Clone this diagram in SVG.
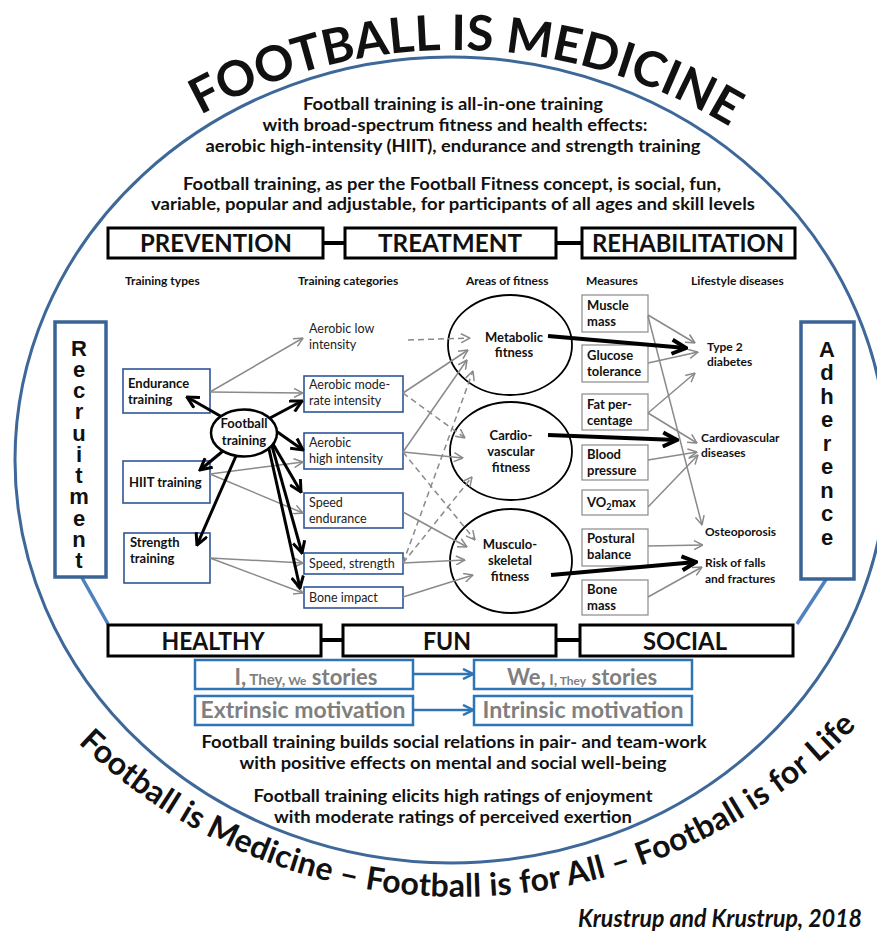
<svg xmlns="http://www.w3.org/2000/svg" width="877" height="934" viewBox="0 0 877 934">
<style>
text{font-family:Lato,"Noto Sans",sans-serif;fill:#111}
.b{font-weight:bold}
.top{font-weight:bold;font-size:16.5px;text-anchor:middle}
.hd{font-weight:bold;font-size:12px}
.big{font-weight:bold;font-size:25px;text-anchor:middle}
.bx{fill:#fff;stroke:#000;stroke-width:3}
.tb{fill:#fff;stroke:#2f5597;stroke-width:1.6}
.mb{fill:#fff;stroke:#8a8a8a;stroke-width:1.2}
.sb{fill:#fff;stroke:#2e75b6;stroke-width:2.5}
.rb{fill:#fff;stroke:#3b6496;stroke-width:3.5}
.el{fill:#fff;stroke:#000;stroke-width:1.8}
.t13{font-weight:bold;font-size:13px}
.t12{font-weight:bold;font-size:12px}
.cat{font-size:12.5px;fill:#222}
.mid{text-anchor:middle}
.vl{font-family:"Liberation Sans",Arial,sans-serif;font-weight:bold;font-size:22px;text-anchor:middle}
.st{font-weight:bold;fill:#7f7f7f;text-anchor:middle}
.ga{stroke:#8a8a8a;stroke-width:1.5;fill:none;marker-end:url(#ag)}
.gd{stroke:#8a8a8a;stroke-width:1.5;fill:none;stroke-dasharray:6 4;marker-end:url(#ag)}
.ba{stroke:#000;stroke-width:3;fill:none;marker-end:url(#ab)}
.bb{stroke:#000;stroke-width:4;fill:none;marker-end:url(#abb)}
.bl{stroke:#2e75b6;stroke-width:2.5;fill:none;marker-end:url(#abl)}
.lk{stroke:#000;stroke-width:4}
.rl{stroke:#4f81bd;stroke-width:3.5}
</style>
<defs>
<marker id="ag" viewBox="0 0 10 10" refX="9.5" refY="5" markerWidth="10" markerHeight="10" markerUnits="userSpaceOnUse" orient="auto"><path d="M0.5,0.5 L9.5,5 L0.5,9.5" fill="none" stroke="#8a8a8a" stroke-width="1.5"/></marker>
<marker id="ab" viewBox="0 0 14 14" refX="12.5" refY="7" markerWidth="14" markerHeight="14" markerUnits="userSpaceOnUse" orient="auto"><path d="M1,1 L12.5,7 L1,13" fill="none" stroke="#000" stroke-width="3"/></marker>
<marker id="abb" viewBox="0 0 18 18" refX="16" refY="9" markerWidth="18" markerHeight="18" markerUnits="userSpaceOnUse" orient="auto"><path d="M2,2 L16,9 L2,16" fill="none" stroke="#000" stroke-width="4"/></marker>
<marker id="abl" viewBox="0 0 12 12" refX="11" refY="6" markerWidth="12" markerHeight="12" markerUnits="userSpaceOnUse" orient="auto"><path d="M1,1 L11,6 L1,11" fill="none" stroke="#2e75b6" stroke-width="2.5"/></marker>
<path id="arcTop" d="M-75,580 A530,530 0 0 1 985,580"/>
<path id="arcBot" d="M-89,349 A548,548 0 0 0 1007,349"/>
</defs>
<rect width="877" height="934" fill="#fff"/>
<ellipse id="frame" cx="451" cy="460" rx="436" ry="403" fill="none" stroke="#3d6899" stroke-width="3"/>

<g id="title">
<text font-weight="bold" font-size="49"><textPath href="#arcTop" startOffset="50.7%" text-anchor="middle">FOOTBALL IS MEDICINE</textPath></text>
</g>
<g id="intro">
<text class="top" x="453" y="110" textLength="300" lengthAdjust="spacingAndGlyphs">Football training is all-in-one training</text>
<text class="top" x="455" y="131" textLength="385" lengthAdjust="spacingAndGlyphs">with broad-spectrum fitness and health effects:</text>
<text class="top" x="453" y="152" textLength="495" lengthAdjust="spacingAndGlyphs">aerobic high-intensity (HIIT), endurance and strength training</text>
<text class="top" x="452" y="190" textLength="538" lengthAdjust="spacingAndGlyphs">Football training, as per the Football Fitness concept, is social, fun,</text>
<text class="top" x="453" y="210" textLength="604" lengthAdjust="spacingAndGlyphs">variable, popular and adjustable, for participants of all ages and skill levels</text>
</g>

<g id="toprow">
<line class="lk" x1="322" y1="243" x2="345" y2="243"/>
<line class="lk" x1="556" y1="243" x2="582" y2="243"/>
<g id="prevention"><rect class="bx" x="108" y="228" width="215" height="30"/><text class="big" x="216" y="252" textLength="152" lengthAdjust="spacingAndGlyphs">PREVENTION</text></g>
<g id="treatment"><rect class="bx" x="345" y="228" width="211" height="30"/><text class="big" x="450" y="252" textLength="144" lengthAdjust="spacingAndGlyphs">TREATMENT</text></g>
<g id="rehabilitation"><rect class="bx" x="582" y="228" width="213" height="30"/><text class="big" x="688" y="252" textLength="192" lengthAdjust="spacingAndGlyphs">REHABILITATION</text></g>
</g>

<g id="headers">
<text class="hd" x="125" y="285">Training types</text>
<text class="hd" x="298" y="285">Training categories</text>
<text class="hd" x="466" y="285">Areas of fitness</text>
<text class="hd" x="586" y="285">Measures</text>
<text class="hd" x="691" y="285">Lifestyle diseases</text>
</g>

<g id="sideLinks">
<line class="rl" x1="81" y1="576" x2="108" y2="624"/>
<line class="rl" x1="827" y1="578" x2="797" y2="624"/>
</g>
<g id="recruitment">
<rect class="rb" x="55" y="322" width="51" height="255"/>
<text class="vl" x="79" y="356">R</text><text class="vl" x="79" y="377">e</text><text class="vl" x="79" y="398">c</text><text class="vl" x="79" y="419">r</text><text class="vl" x="79" y="441">u</text><text class="vl" x="79" y="462">i</text><text class="vl" x="79" y="483">t</text><text class="vl" x="79" y="504">m</text><text class="vl" x="79" y="526">e</text><text class="vl" x="79" y="547">n</text><text class="vl" x="79" y="568">t</text>
</g>
<g id="adherence">
<rect class="rb" x="801" y="322" width="53" height="257"/>
<text class="vl" x="827" y="357">A</text><text class="vl" x="827" y="380">d</text><text class="vl" x="827" y="404">h</text><text class="vl" x="827" y="427">e</text><text class="vl" x="827" y="451">r</text><text class="vl" x="827" y="474">e</text><text class="vl" x="827" y="498">n</text><text class="vl" x="827" y="521">c</text><text class="vl" x="827" y="545">e</text>
</g>

<g id="endurance"><rect class="tb" x="123" y="369" width="87" height="44"/><text class="t13" x="128" y="388">Endurance</text><text class="t13" x="128" y="404">training</text></g>
<g id="hiit"><rect class="tb" x="123" y="461" width="87" height="42"/><text class="t13" x="129" y="487">HIIT training</text></g>
<g id="strength"><rect class="tb" x="124" y="533" width="86" height="50"/><text class="t13" x="130" y="547">Strength</text><text class="t13" x="130" y="563">training</text></g>

<g id="aerobicLow"><text class="cat" x="309" y="333">Aerobic low</text><text class="cat" x="309" y="349">intensity</text></g>
<g id="aerobicMod"><rect class="tb" x="304" y="376" width="99" height="36"/><text class="cat" x="309" y="389">Aerobic mode-</text><text class="cat" x="309" y="405">rate intensity</text></g>
<g id="aerobicHigh"><rect class="tb" x="304" y="433" width="99" height="36"/><text class="cat" x="309" y="447">Aerobic</text><text class="cat" x="309" y="463">high intensity</text></g>
<g id="speedEnd"><rect class="tb" x="304" y="493" width="99" height="35"/><text class="cat" x="309" y="507">Speed</text><text class="cat" x="309" y="523">endurance</text></g>
<g id="speedStr"><rect class="tb" x="304" y="553" width="99" height="21"/><text class="cat" x="309" y="568">Speed, strength</text></g>
<g id="boneImpact"><rect class="tb" x="304" y="587" width="99" height="21"/><text class="cat" x="309" y="602">Bone impact</text></g>

<g id="metabolic"><ellipse class="el" cx="510" cy="345" rx="62" ry="50"/><text class="t13 mid" x="514" y="342">Metabolic</text><text class="t13 mid" x="514" y="357">fitness</text></g>
<g id="cardio"><ellipse class="el" cx="511" cy="451" rx="61" ry="49"/><text class="t13 mid" x="511" y="440">Cardio-</text><text class="t13 mid" x="511" y="456">vascular</text><text class="t13 mid" x="511" y="472">fitness</text></g>
<g id="musculo"><ellipse class="el" cx="511" cy="561" rx="61" ry="52"/><text class="t13 mid" x="510" y="549">Musculo-</text><text class="t13 mid" x="510" y="565">skeletal</text><text class="t13 mid" x="510" y="581">fitness</text></g>

<g id="muscleMass"><rect class="mb" x="582" y="295" width="66" height="37"/><text class="t13" x="587" y="310">Muscle</text><text class="t13" x="587" y="326">mass</text></g>
<g id="glucose"><rect class="mb" x="582" y="345" width="66" height="37"/><text class="t13" x="587" y="360">Glucose</text><text class="t13" x="587" y="376">tolerance</text></g>
<g id="fat"><rect class="mb" x="582" y="394" width="66" height="36"/><text class="t13" x="587" y="409">Fat per-</text><text class="t13" x="587" y="425">centage</text></g>
<g id="blood"><rect class="mb" x="582" y="445" width="66" height="35"/><text class="t13" x="587" y="459">Blood</text><text class="t13" x="587" y="475">pressure</text></g>
<g id="vo2"><rect class="mb" x="582" y="490" width="66" height="25"/><text class="t13" x="587" y="507">VO<tspan font-size="9" dy="3">2</tspan><tspan dy="-3">max</tspan></text></g>
<g id="postural"><rect class="mb" x="582" y="529" width="66" height="37"/><text class="t13" x="587" y="543">Postural</text><text class="t13" x="587" y="559">balance</text></g>
<g id="boneMass"><rect class="mb" x="582" y="580" width="66" height="35"/><text class="t13" x="587" y="594">Bone</text><text class="t13" x="587" y="610">mass</text></g>

<g id="type2"><text class="t12" x="707" y="351">Type 2</text><text class="t12" x="707" y="366">diabetes</text></g>
<g id="cvd"><text class="t12" x="701" y="442">Cardiovascular</text><text class="t12" x="701" y="457">diseases</text></g>
<g id="osteo"><text class="t12" x="705" y="536">Osteoporosis</text></g>
<g id="falls"><text class="t12" x="705" y="567">Risk of falls</text><text class="t12" x="705" y="583">and fractures</text></g>

<g id="connectors">
<line class="ga" x1="210" y1="392" x2="303" y2="338"/>
<line class="ga" x1="210" y1="392" x2="303" y2="393"/>
<line class="ga" x1="210" y1="474" x2="303" y2="462"/>
<line class="ga" x1="210" y1="474" x2="303" y2="513"/>
<line class="ga" x1="210" y1="558" x2="303" y2="563"/>
<line class="ga" x1="210" y1="558" x2="303" y2="593"/>
<line class="gd" x1="408" y1="340" x2="470" y2="338"/>
<line class="ga" x1="403" y1="393" x2="468" y2="350"/>
<line class="gd" x1="403" y1="393" x2="465" y2="438"/>
<line class="ga" x1="403" y1="452" x2="467" y2="360"/>
<line class="ga" x1="403" y1="452" x2="463" y2="458"/>
<line class="gd" x1="403" y1="452" x2="475" y2="540"/>
<line class="ga" x1="403" y1="512" x2="467" y2="547"/>
<line class="ga" x1="403" y1="563" x2="465" y2="560"/>
<line class="gd" x1="403" y1="563" x2="472" y2="477"/>
<line class="gd" x1="403" y1="563" x2="473" y2="371"/>
<line class="ga" x1="403" y1="597" x2="473" y2="575"/>
<line class="ga" x1="648" y1="315" x2="695" y2="343"/>
<line class="ga" x1="648" y1="316" x2="702" y2="525"/>
<line class="ga" x1="648" y1="363" x2="698" y2="352"/>
<line class="ga" x1="648" y1="413" x2="695" y2="373"/>
<line class="ga" x1="648" y1="413" x2="697" y2="443"/>
<line class="ga" x1="648" y1="460" x2="697" y2="452"/>
<line class="ga" x1="648" y1="507" x2="698" y2="455"/>
<line class="ga" x1="648" y1="546" x2="703" y2="545"/>
<line class="ga" x1="648" y1="597" x2="702" y2="567"/>
<line class="bb" x1="548" y1="336" x2="686" y2="348"/>
<line class="bb" x1="548" y1="435" x2="677" y2="440"/>
<line class="bb" x1="551" y1="575" x2="696" y2="562"/>
<line class="ba" x1="222" y1="417" x2="187" y2="397"/>
<line class="ba" x1="270" y1="418" x2="302" y2="401"/>
<line class="ba" x1="276" y1="431" x2="303" y2="450"/>
<line class="ba" x1="223" y1="451" x2="200" y2="470"/>
<line class="ba" x1="236" y1="456" x2="197" y2="545"/>
<line class="ba" x1="273" y1="444" x2="301" y2="492"/>
<line class="ba" x1="272" y1="446" x2="302" y2="553"/>
<line class="ba" x1="269" y1="449" x2="300" y2="588"/>
<line class="bl" x1="413" y1="674" x2="473" y2="674"/>
<line class="bl" x1="413" y1="710" x2="473" y2="710"/>
</g>

<g id="football"><ellipse cx="244" cy="433" rx="33" ry="23.5" fill="#fff" stroke="#000" stroke-width="2.5"/><text class="t13 mid" x="244" y="428">Football</text><text class="t13 mid" x="244" y="445">training</text></g>

<g id="bottomrow">
<line class="lk" x1="320" y1="640" x2="344" y2="640"/>
<line class="lk" x1="556" y1="640" x2="580" y2="640"/>
<g id="healthy"><rect class="bx" x="108" y="625" width="213" height="31"/><text class="big" x="213" y="650" textLength="103" lengthAdjust="spacingAndGlyphs">HEALTHY</text></g>
<g id="fun"><rect class="bx" x="343" y="625" width="213" height="31"/><text class="big" x="447" y="650" textLength="48" lengthAdjust="spacingAndGlyphs">FUN</text></g>
<g id="social"><rect class="bx" x="580" y="625" width="213" height="31"/><text class="big" x="685" y="650" textLength="84" lengthAdjust="spacingAndGlyphs">SOCIAL</text></g>
</g>

<g id="stories1"><rect class="sb" x="195" y="660" width="218" height="29"/><text class="st" x="306" y="685"><tspan font-size="22">I,</tspan><tspan font-size="15"> They,</tspan><tspan font-size="12"> We</tspan><tspan font-size="22"> stories</tspan></text></g>
<g id="stories2"><rect class="sb" x="474" y="660" width="218" height="29"/><text class="st" x="582" y="685"><tspan font-size="22">We,</tspan><tspan font-size="15"> I,</tspan><tspan font-size="12"> They</tspan><tspan font-size="22"> stories</tspan></text></g>
<g id="extrinsic"><rect class="sb" x="195" y="696" width="218" height="29"/><text class="st" x="303" y="718" font-size="22" textLength="205" lengthAdjust="spacingAndGlyphs">Extrinsic motivation</text></g>
<g id="intrinsic"><rect class="sb" x="474" y="696" width="218" height="29"/><text class="st" x="583" y="718" font-size="22" textLength="201" lengthAdjust="spacingAndGlyphs">Intrinsic motivation</text></g>

<g id="outro">
<text class="top" x="454" y="748" font-size="16" textLength="505" lengthAdjust="spacingAndGlyphs">Football training builds social relations in pair- and team-work</text>
<text class="top" x="453" y="769" font-size="16" textLength="427" lengthAdjust="spacingAndGlyphs">with positive effects on mental and social well-being</text>
<text class="top" x="453" y="802" font-size="16" textLength="399" lengthAdjust="spacingAndGlyphs">Football training elicits high ratings of enjoyment</text>
<text class="top" x="453" y="823" font-size="16" textLength="358" lengthAdjust="spacingAndGlyphs">with moderate ratings of perceived exertion</text>
</g>

<g id="slogan">
<text font-weight="bold" font-size="32" letter-spacing="0.3"><textPath href="#arcBot" startOffset="50.7%" text-anchor="middle">Football is Medicine – Football is for All – Football is for Life</textPath></text>
</g>
<text x="578" y="927" font-family="'Liberation Serif',serif" font-weight="bold" font-style="italic" font-size="24" textLength="284" lengthAdjust="spacingAndGlyphs">Krustrup and Krustrup, 2018</text>
</svg>
